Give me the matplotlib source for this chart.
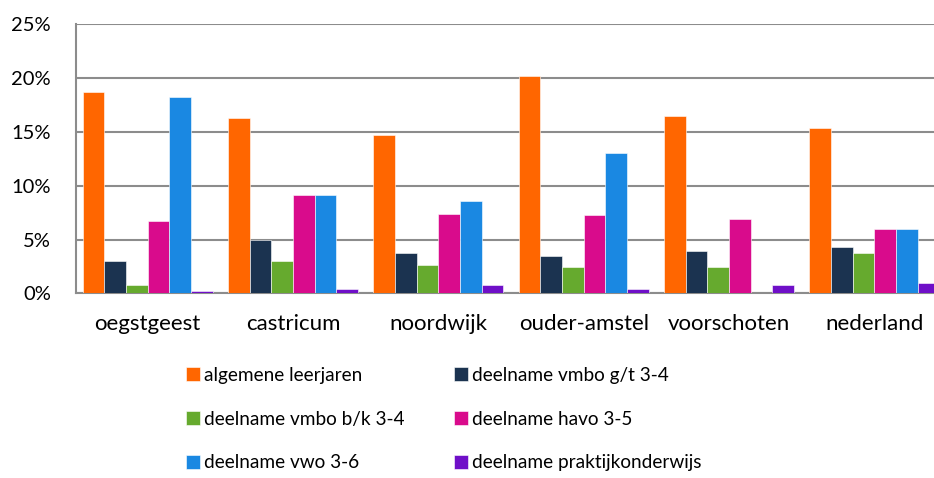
import numpy as np
import matplotlib
matplotlib.use('Agg')
import matplotlib.pyplot as plt
from matplotlib.ticker import FuncFormatter

plt.rcParams['font.family'] = ['Lato', 'DejaVu Sans']

gemeenten = ['oegstgeest', 'castricum', 'noordwijk', 'ouder-amstel',
             'voorschoten', 'nederland']

series_names = ['algemene leerjaren', 'deelname vmbo g/t 3-4',
                'deelname vmbo b/k 3-4', 'deelname havo 3-5',
                'deelname vwo 3-6', 'deelname praktijkonderwijs']

# percentages per gemeente
algemeen = [18.7, 16.3, 14.7, 20.2, 16.5, 15.4]
vmbo_gt = [3.0, 5.0, 3.7, 3.5, 3.9, 4.3]
vmbo_bk = [0.8, 3.0, 2.6, 2.45, 2.45, 3.7]
havo = [6.7, 9.1, 7.4, 7.25, 6.9, 5.95]
vwo = [18.2, 9.1, 8.55, 13.0, 0.0, 5.95]
praktijk = [0.2, 0.4, 0.75, 0.4, 0.75, 0.95]

colors = ['#FF6600', '#1B3350', '#66AA2E', '#D90B8C', '#1A88E2', '#6F0FC8']

all_series = [algemeen, vmbo_gt, vmbo_bk, havo, vwo, praktijk]

fig = plt.figure(figsize=(9.34, 4.78), dpi=100)
ax = fig.add_axes([76 / 934, 1 - 293.3 / 478, 1 - 76 / 934, (293.3 - 24.3) / 478])

x = np.arange(len(gemeenten))
width = 0.149
handles = []
for i, (vals, c) in enumerate(zip(all_series, colors)):
    offs = (i - 2.5) * width
    b = ax.bar(x + offs, vals, width, color=c, edgecolor='white',
               linewidth=0.4, zorder=3, label=series_names[i])
    handles.append(b)

ax.set_ylim(0, 25)
ax.set_xlim(-0.493, 5.41)
ax.set_yticks(np.arange(0, 26, 5))
ax.yaxis.set_major_formatter(FuncFormatter(lambda v, p: '%d%%' % v))
ax.grid(axis='y', color='#8C8C8C', linewidth=1.5, zorder=0)
ax.set_xticks(x)
ax.set_xticklabels(gemeenten)
ax.tick_params(axis='both', length=0, colors='black')
ax.tick_params(axis='x', pad=15, labelsize=16)
ax.tick_params(axis='y', pad=18, labelsize=14.5)
for s in ['top', 'right']:
    ax.spines[s].set_visible(False)
for s in ['left', 'bottom']:
    ax.spines[s].set_color('#8C8C8C')
    ax.spines[s].set_linewidth(1.5)

order = [0, 2, 4, 1, 3, 5]
fig.legend([handles[i] for i in order], [series_names[i] for i in order],
           ncol=2, loc='upper left', bbox_to_anchor=(186 / 934, 1 - 367 / 478),
           frameon=False, fontsize=13.7, handlelength=0.75, handleheight=0.75,
           handletextpad=0.2, columnspacing=2.6, labelspacing=1.4,
           borderpad=0, borderaxespad=0)

fig.savefig('out.png', dpi=100)
